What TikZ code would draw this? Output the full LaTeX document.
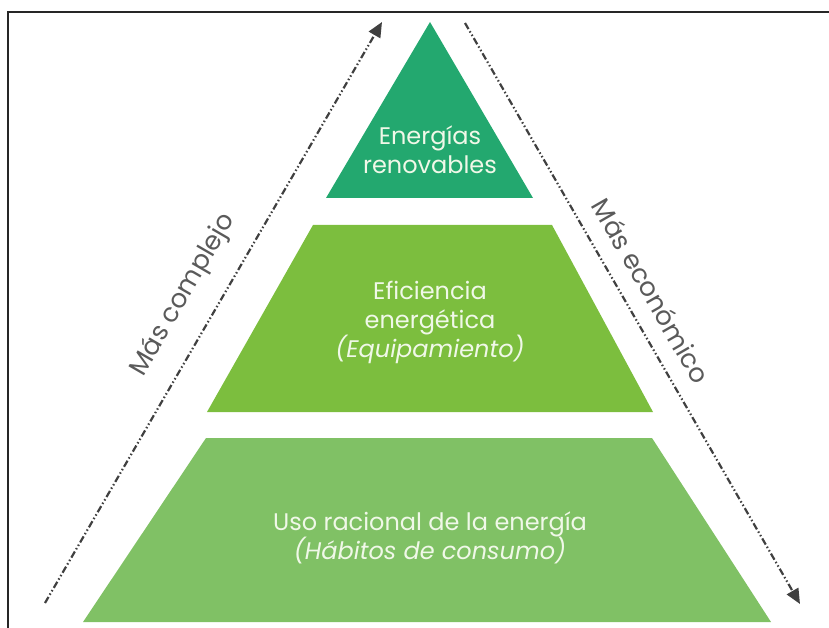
\documentclass[tikz,border=0pt]{standalone}
\usepackage{fontspec}
\setmainfont{Poppins}
\usetikzlibrary{arrows.meta}
\definecolor{renovgreen}{RGB}{35,168,111}
\definecolor{eficgreen}{RGB}{124,190,62}
\definecolor{usogreen}{RGB}{128,193,101}
\definecolor{tiertext}{RGB}{240,248,232}
\definecolor{arrowgray}{RGB}{64,64,64}
\definecolor{sidegray}{RGB}{90,90,90}
\tikzset{
  tierlabel/.style={text=tiertext, align=center, font=\fontsize{24}{29}\selectfont},
  sidelabel/.style={text=sidegray, sloped, font=\fontsize{26}{30}\selectfont},
  trendarrow/.style={arrowgray, line width=2.2pt,
    dash pattern=on 7pt off 2.5pt on 1.5pt off 2.5pt on 1.5pt off 2.5pt,
    -{Triangle[length=15pt,width=13pt]}},
}
\begin{document}
\begin{tikzpicture}[x=1pt,y=-1pt]
  \useasboundingbox (0,0) rectangle (829,628);
  %% Frame
  \draw[line width=2pt, black!85] (829,12) -- (8,12) -- (8,628);
  %% Pyramid
  \fill[usogreen] (206,438) -- (652,438) -- (771,622) -- (83,622) -- cycle;
  \fill[eficgreen] (313,225) -- (552,225) -- (653,412) -- (207,412) -- cycle;
  \fill[renovgreen] (430,22) -- (533,198) -- (326,198) -- cycle;
  %% Tier labels
  \node[tierlabel] (renov) at (430,150) {Energías\\renovables};
  \node[tierlabel] (efic) at (430,322) {Eficiencia\\energética\\{\itshape (Equipamiento)}};
  \node[tierlabel] (uso) at (430,538) {Uso racional de la energía\\{\itshape (Hábitos de consumo)}};
  %% Trend arrows
  \coordinate (cbottom) at (45,603);
  \coordinate (ctop) at (382,22);
  \coordinate (etop) at (465,23);
  \coordinate (ebottom) at (800,604);
  \draw[trendarrow] (cbottom) -- node[sidelabel, pos=0.5, above=17pt] (complejo) {Más complejo} (ctop);
  \draw[trendarrow] (etop) -- node[sidelabel, pos=0.485, above=13pt] (economico) {Más económico} (ebottom);
\end{tikzpicture}
\end{document}
